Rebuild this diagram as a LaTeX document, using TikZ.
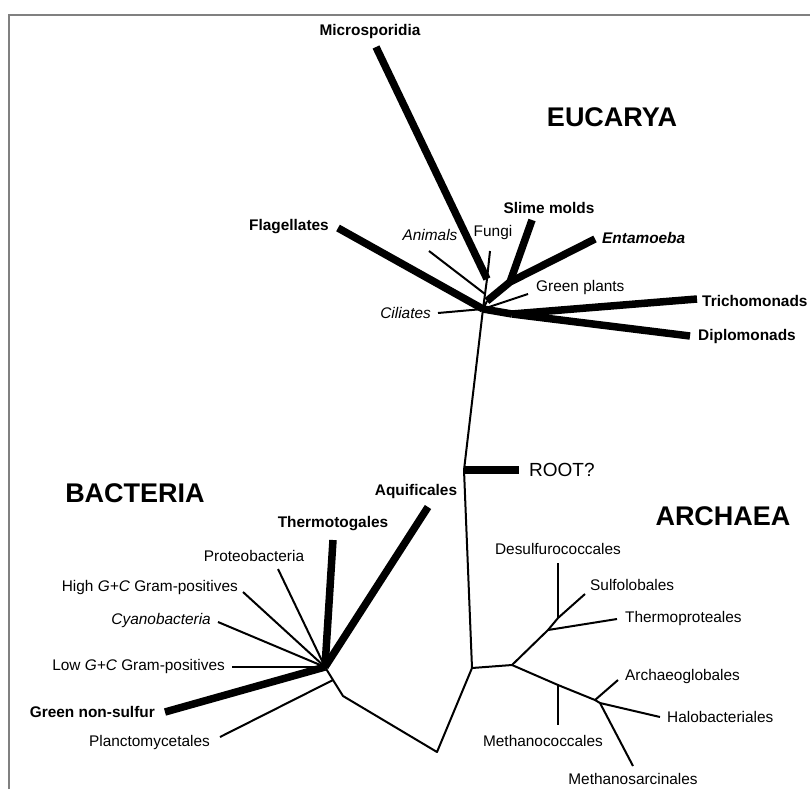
\documentclass[tikz,border=0pt]{standalone}
\usepackage{fontspec}
\setmainfont{Liberation Sans}
\usetikzlibrary{positioning}

\begin{document}
\begin{tikzpicture}[x=1pt, y=-1pt,
    thinbranch/.style={line width=2pt, line join=round},
    thickbranch/.style={line width=7.5pt, line join=round},
    taxon/.style={inner sep=0pt, font=\fontsize{15.4}{18}\selectfont},
    itaxon/.style={inner sep=0pt, font=\fontsize{15.4}{18}\selectfont\itshape},
    btaxon/.style={inner sep=0pt, font=\fontsize{15.4}{18}\selectfont\bfseries},
    domainlabel/.style={inner sep=0pt, font=\fontsize{27}{32}\selectfont\bfseries}]

    \useasboundingbox (0,0) rectangle (810,789);

    % frame
    \draw[gray, line width=1.8pt] (9,789) -- (9,15) -- (810,15);

    % ---------- Eucarya ----------
    \coordinate (hubE) at (483,309);
    \coordinate (mf) at (487,279);
    \coordinate (an) at (485,294);
    \coordinate (se) at (487,301);
    \coordinate (sm) at (510,282);
    \coordinate (td) at (512,314);

    \coordinate (tipMic) at (376,47);
    \coordinate (tipFla) at (338,228);
    \coordinate (tipAni) at (429,251);
    \coordinate (tipFun) at (490,251);
    \coordinate (tipSli) at (532,220);
    \coordinate (tipEnt) at (595,239);
    \coordinate (tipGre) at (528,294);
    \coordinate (tipCil) at (438,313);
    \coordinate (tipTri) at (697,299);
    \coordinate (tipDip) at (690,336);

    \node[btaxon] (mic) at (370,32) {Microsporidia};
    \node[btaxon, anchor=east] (fla) at (329,227) {Flagellates};
    \node[itaxon] (ani) at (430,235) {Animals};
    \node[taxon] (fun) at (493,233) {Fungi};
    \node[btaxon] (sli) at (549,208) {Slime molds};
    \node[btaxon, anchor=west] (ent) at (602,238) {\itshape Entamoeba};
    \node[taxon, anchor=west] (gre) at (536,288) {Green plants};
    \node[itaxon, anchor=east] (cil) at (431,313) {Ciliates};
    \node[btaxon, anchor=west] (tri) at (702,301) {Trichomonads};
    \node[btaxon, anchor=west] (dip) at (698,337) {Diplomonads};
    \node[domainlabel] (euc) at (612,117) {EUCARYA};

    \draw[thickbranch] (tipMic) -- (mf);
    \draw[thinbranch] (tipFun) -- (mf) -- (hubE);
    \draw[thinbranch] (tipAni) -- (an);
    \draw[thickbranch] (tipFla) -- (hubE);
    \draw[thickbranch] (tipSli) -- (sm);
    \draw[thickbranch] (tipEnt) -- (sm) -- (se);
    \draw[thinbranch] (se) -- (hubE);
    \draw[thinbranch] (tipGre) -- (hubE);
    \draw[thinbranch] (tipCil) -- (hubE);
    \draw[thickbranch] (hubE) -- (td);
    \draw[thickbranch] (td) -- (tipTri);
    \draw[thickbranch] (td) -- (tipDip);

    % ---------- root ----------
    \coordinate (rootJ) at (464,470);
    \coordinate (tipRoot) at (519,470);
    \node[taxon, font=\fontsize{19}{22}\selectfont, anchor=west] (root) at (529,470) {ROOT?};
    \draw[thickbranch] (rootJ) -- (tipRoot);

    % ---------- Archaea ----------
    \coordinate (A0) at (472,668);
    \coordinate (A1) at (512,665);
    \coordinate (cr1) at (548,630);
    \coordinate (cr2) at (558,618);
    \coordinate (eu1) at (558,685);
    \coordinate (eu2) at (595,700);
    \coordinate (eu3) at (600,703);

    \coordinate (tipSul) at (585,594);
    \coordinate (tipThp) at (617,619);
    \coordinate (tipDes) at (558,563);
    \coordinate (tipMco) at (558,725);
    \coordinate (tipArc) at (618,680);
    \coordinate (tipHal) at (660,717);
    \coordinate (tipMsa) at (633,766);

    \node[taxon] (des) at (558,549) {Desulfurococcales};
    \node[taxon, anchor=west] (sul) at (590,585) {Sulfolobales};
    \node[taxon, anchor=west] (thp) at (625,619) {Thermoproteales};
    \node[taxon, anchor=west] (arc) at (625,677) {Archaeoglobales};
    \node[taxon, anchor=west] (hal) at (667,717) {Halobacteriales};
    \node[taxon] (mco) at (543,741) {Methanococcales};
    \node[taxon] (msa) at (633,779) {Methanosarcinales};
    \node[domainlabel] (arh) at (723,516) {ARCHAEA};

    \draw[thinbranch] (hubE) -- (rootJ) -- (A0) -- (A1);
    \draw[thinbranch] (A1) -- (cr1) -- (cr2) -- (tipSul);
    \draw[thinbranch] (cr1) -- (tipThp);
    \draw[thinbranch] (cr2) -- (tipDes);
    \draw[thinbranch] (A1) -- (eu1) -- (eu2) -- (eu3) -- (tipHal);
    \draw[thinbranch] (eu1) -- (tipMco);
    \draw[thinbranch] (eu2) -- (tipArc);
    \draw[thinbranch] (eu3) -- (tipMsa);

    % ---------- Bacteria ----------
    \coordinate (hubB) at (325,667);
    \coordinate (b1) at (333,680);
    \coordinate (b2) at (343,696);
    \coordinate (vb) at (437,752);

    \coordinate (tipGns) at (165,712);
    \coordinate (tipLow) at (232,667);
    \coordinate (tipCya) at (218,622);
    \coordinate (tipHig) at (243,592);
    \coordinate (tipPro) at (278,569);
    \coordinate (tipThg) at (333,540);
    \coordinate (tipAqu) at (428,507);
    \coordinate (tipPla) at (220,737);

    \node[btaxon, anchor=east] (gns) at (155,712) {Green non-sulfur};
    \node[taxon, anchor=east] (low) at (225,667) {Low \textit{G+C} Gram-positives};
    \node[itaxon, anchor=east] (cya) at (211,621) {Cyanobacteria};
    \node[taxon, anchor=east] (hig) at (238,588) {High \textit{G+C} Gram-positives};
    \node[taxon] (pro) at (254,556) {Proteobacteria};
    \node[btaxon] (thg) at (333,524) {Thermotogales};
    \node[btaxon] (aqu) at (416,492) {Aquificales};
    \node[taxon, anchor=east] (pla) at (210,743) {Planctomycetales};
    \node[domainlabel] (bac) at (135,493) {BACTERIA};

    \draw[thinbranch] (A0) -- (vb) -- (b2) -- (b1) -- (hubB);
    \draw[thinbranch] (b1) -- (tipPla);
    \draw[thickbranch] (hubB) -- (tipGns);
    \foreach \t in {tipLow, tipCya, tipHig, tipPro}
        \draw[thinbranch] (\t) -- (hubB);
    \draw[thickbranch] (tipThg) -- (hubB);
    \draw[thickbranch] (tipAqu) -- (hubB);
\end{tikzpicture}
\end{document}
